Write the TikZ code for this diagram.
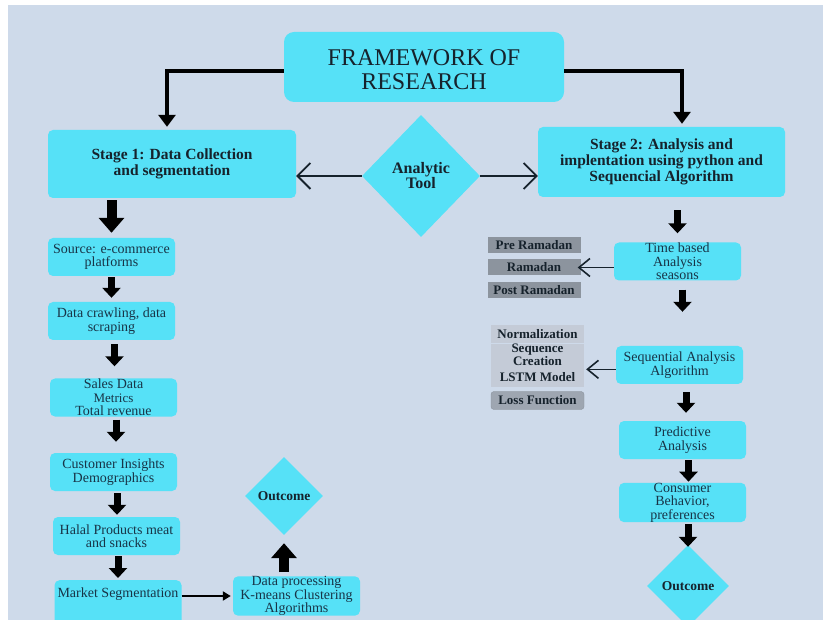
\documentclass[tikz,border=0pt]{standalone}
\usepackage{fontspec}
\setmainfont{Liberation Serif}
\usetikzlibrary{arrows.meta,shapes.geometric,calc}
\definecolor{bgc}{HTML}{CEDAEA}
\definecolor{cyanb}{HTML}{56E1F7}
\definecolor{txtc}{HTML}{183447}
\definecolor{darkt}{HTML}{16222C}
\definecolor{greyd}{HTML}{8C949E}
\definecolor{greyl}{HTML}{C4CBD7}
\definecolor{greym}{HTML}{9EA6B1}
\begin{document}
\begin{tikzpicture}[x=1pt,y=-1pt,
  box/.style={fill=cyanb, rounded corners=5pt, inner sep=0pt, minimum width=127pt, minimum height=38pt, align=center, text=txtc, font=\fontsize{14}{13.5}\selectfont},
  stagefont/.style={font=\bfseries\fontsize{15.5}{16}\selectfont, text=darkt},
  titletxt/.style={align=center, text=darkt, inner sep=0pt, font=\fontsize{24}{24}\selectfont},
  dia/.style={diamond, aspect=1, fill=cyanb, inner sep=0pt, align=center, text=darkt, font=\bfseries\fontsize{13.5}{14}\selectfont},
  gbox/.style={fill=greyd, inner sep=0pt, minimum width=93pt, minimum height=16pt, align=center, text=darkt, font=\bfseries\fontsize{13}{12.5}\selectfont},
  lbox/.style={gbox, fill=greyl},
  tarrow/.style={draw=black, line width=4pt, -{Triangle[width=17pt,length=12pt]}},
  blkbig/.style={draw=black, line width=10pt, -{Triangle[width=25pt,length=15pt]}},
  blk/.style={draw=black, line width=7pt, -{Triangle[width=18pt,length=10pt]}},
  openarr/.style={draw=darkt, line width=1.8pt, -{Straight Barb[length=13pt,width=26pt]}},
  openarrs/.style={draw=darkt, line width=1.6pt, -{Straight Barb[length=11pt,width=18pt]}},
  thinarr/.style={draw=black, line width=2pt, -{Triangle[width=9pt,length=8pt]}}
]
\useasboundingbox (0,0) rectangle (825,620);
\fill[white] (0,0) rectangle (825,620);
\fill[bgc] (8,5) rectangle (823,620);

% title and stages
\node[box, minimum width=280pt, minimum height=70pt, rounded corners=10pt] (title) at (424,67) {};
\node[titletxt] (titlet) at (424,70) {FRAMEWORK OF\\RESEARCH};
\node[box, stagefont, minimum width=248pt, minimum height=68pt] (st1) at (172,164) {Stage 1: Data Collection\\and segmentation};
\node[box, stagefont, minimum width=247pt, minimum height=70pt] (st2) at (661.5,162) {Stage 2: Analysis and\\implentation using python and\\Sequencial Algorithm};
\node[dia, minimum width=118pt, minimum height=122pt, font=\bfseries\fontsize{16}{15}\selectfont] (tool) at (421,176) {Analytic\\Tool};

\draw[tarrow, shorten >=3pt] ([yshift=-4pt]title.west) -| ([xshift=-5pt]st1.north);
\draw[tarrow, shorten >=3pt] ([yshift=-4pt]title.east) -| ([xshift=20.5pt]st2.north);
\draw[openarr] (tool.west) -- (st1.east |- tool.west);
\draw[openarr] (tool.east) -- (st2.west |- tool.east);

% left column
\node[box] (src) at (111.5,257) {Source: e-commerce\\platforms};
\node[box] (crawl) at (111.5,321) {Data crawling, data\\scraping};
\node[box] (sales) at (113.5,397.5) {Sales Data\\{\fontsize{13}{12}\selectfont Metrics}\\Total revenue};
\node[box] (cust) at (113.5,472) {Customer Insights\\Demographics};
\node[box] (halal) at (116.5,536) {Halal Products meat\\and snacks};
\node[box, minimum height=46pt, anchor=north] (market) at (118,580) {};
\node[text=txtc, inner sep=0pt, font=\fontsize{14}{13.5}\selectfont] (markett) at (118,594) {Market Segmentation};
\node[box] (dproc) at (296.5,596) {Data processing\\K-means Clustering\\Algorithms};
\node[dia, minimum width=78pt, minimum height=78pt] (out1) at (284,496) {Outcome};

\draw[blkbig, shorten <=2pt, shorten >=5pt] (src.north |- st1.south) -- (src.north);
\draw[blk, shorten <=1pt, shorten >=4pt] (src.south) -- (src.south |- crawl.north);
\draw[blk, shorten <=4pt, shorten >=12pt] ([xshift=3pt]crawl.south) -- ([xshift=3pt]crawl.south |- sales.north);
\draw[blk, shorten <=3pt, shorten >=11pt] ([xshift=2.5pt]sales.south) -- ([xshift=2.5pt]sales.south |- cust.north);
\draw[blk, shorten <=2pt, shorten >=2pt] ([xshift=3.5pt]cust.south) -- ([xshift=3.5pt]cust.south |- halal.north);
\draw[blk, shorten <=1pt, shorten >=2pt] ([xshift=1.5pt]halal.south) -- ([xshift=1.5pt]halal.south |- market.north);
\draw[thinarr, shorten >=2pt] (market.east |- dproc.west) -- (dproc.west);
\draw[blkbig, shorten <=4pt, shorten >=8pt] (out1.south |- dproc.north) -- (out1.south);

% right column
\node[box] (time) at (677.5,261.5) {Time based\\Analysis\\seasons};
\node[gbox] (pre) at (534,245) {Pre Ramadan};
\node[gbox] (ram) at (534,267.5) {Ramadan};
\node[gbox] (post) at (534,290.5) {Post Ramadan};
\node[box] (seq) at (679.5,365) {Sequential Analysis\\Algorithm};
\node[lbox, minimum height=18pt] (norm) at (537.5,334) {Normalization};
\node[lbox, minimum height=21pt] (lstm) at (537.5,377) {LSTM Model};
\node[lbox, minimum height=18pt] (seqc) at (537.5,356.5) {\raisebox{4pt}{\begin{tabular}{@{}c@{}}Sequence\\Creation\end{tabular}}};
\node[gbox, fill=greym, draw=greyd, rounded corners=3pt, minimum height=18pt] (loss) at (537.5,400.5) {Loss Function};
\node[box] (pred) at (682.5,440) {Predictive\\Analysis};
\node[box] (cons) at (682.5,502.5) {Consumer\\Behavior,\\preferences};
\node[dia, minimum width=82pt, minimum height=82pt] (out2) at (688,586) {Outcome};

\draw[blk, shorten <=13pt, shorten >=9pt] (time.north |- st2.south) -- (time.north);
\draw[blk, shorten <=9pt, shorten >=34pt] ([xshift=5pt]time.south) -- ([xshift=5pt]time.south |- seq.north);
\draw[blk, shorten <=8pt, shorten >=8pt] ([xshift=6.5pt]seq.south) -- ([xshift=6.5pt]seq.south |- pred.north);
\draw[blk, shorten <=1pt, shorten >=1pt] ([xshift=6pt]pred.south) -- ([xshift=6pt]pred.south |- cons.north);
\draw[blk, shorten <=2pt, shorten >=-2pt] (out2.north |- cons.south) -- (out2.north);
\draw[openarrs, shorten >=-3pt] (time.west |- ram.east) -- (ram.east);
\draw[openarrs, shorten >=2pt] (seq.west |- seqc.south east) -- (seqc.south east);
\end{tikzpicture}
\end{document}
